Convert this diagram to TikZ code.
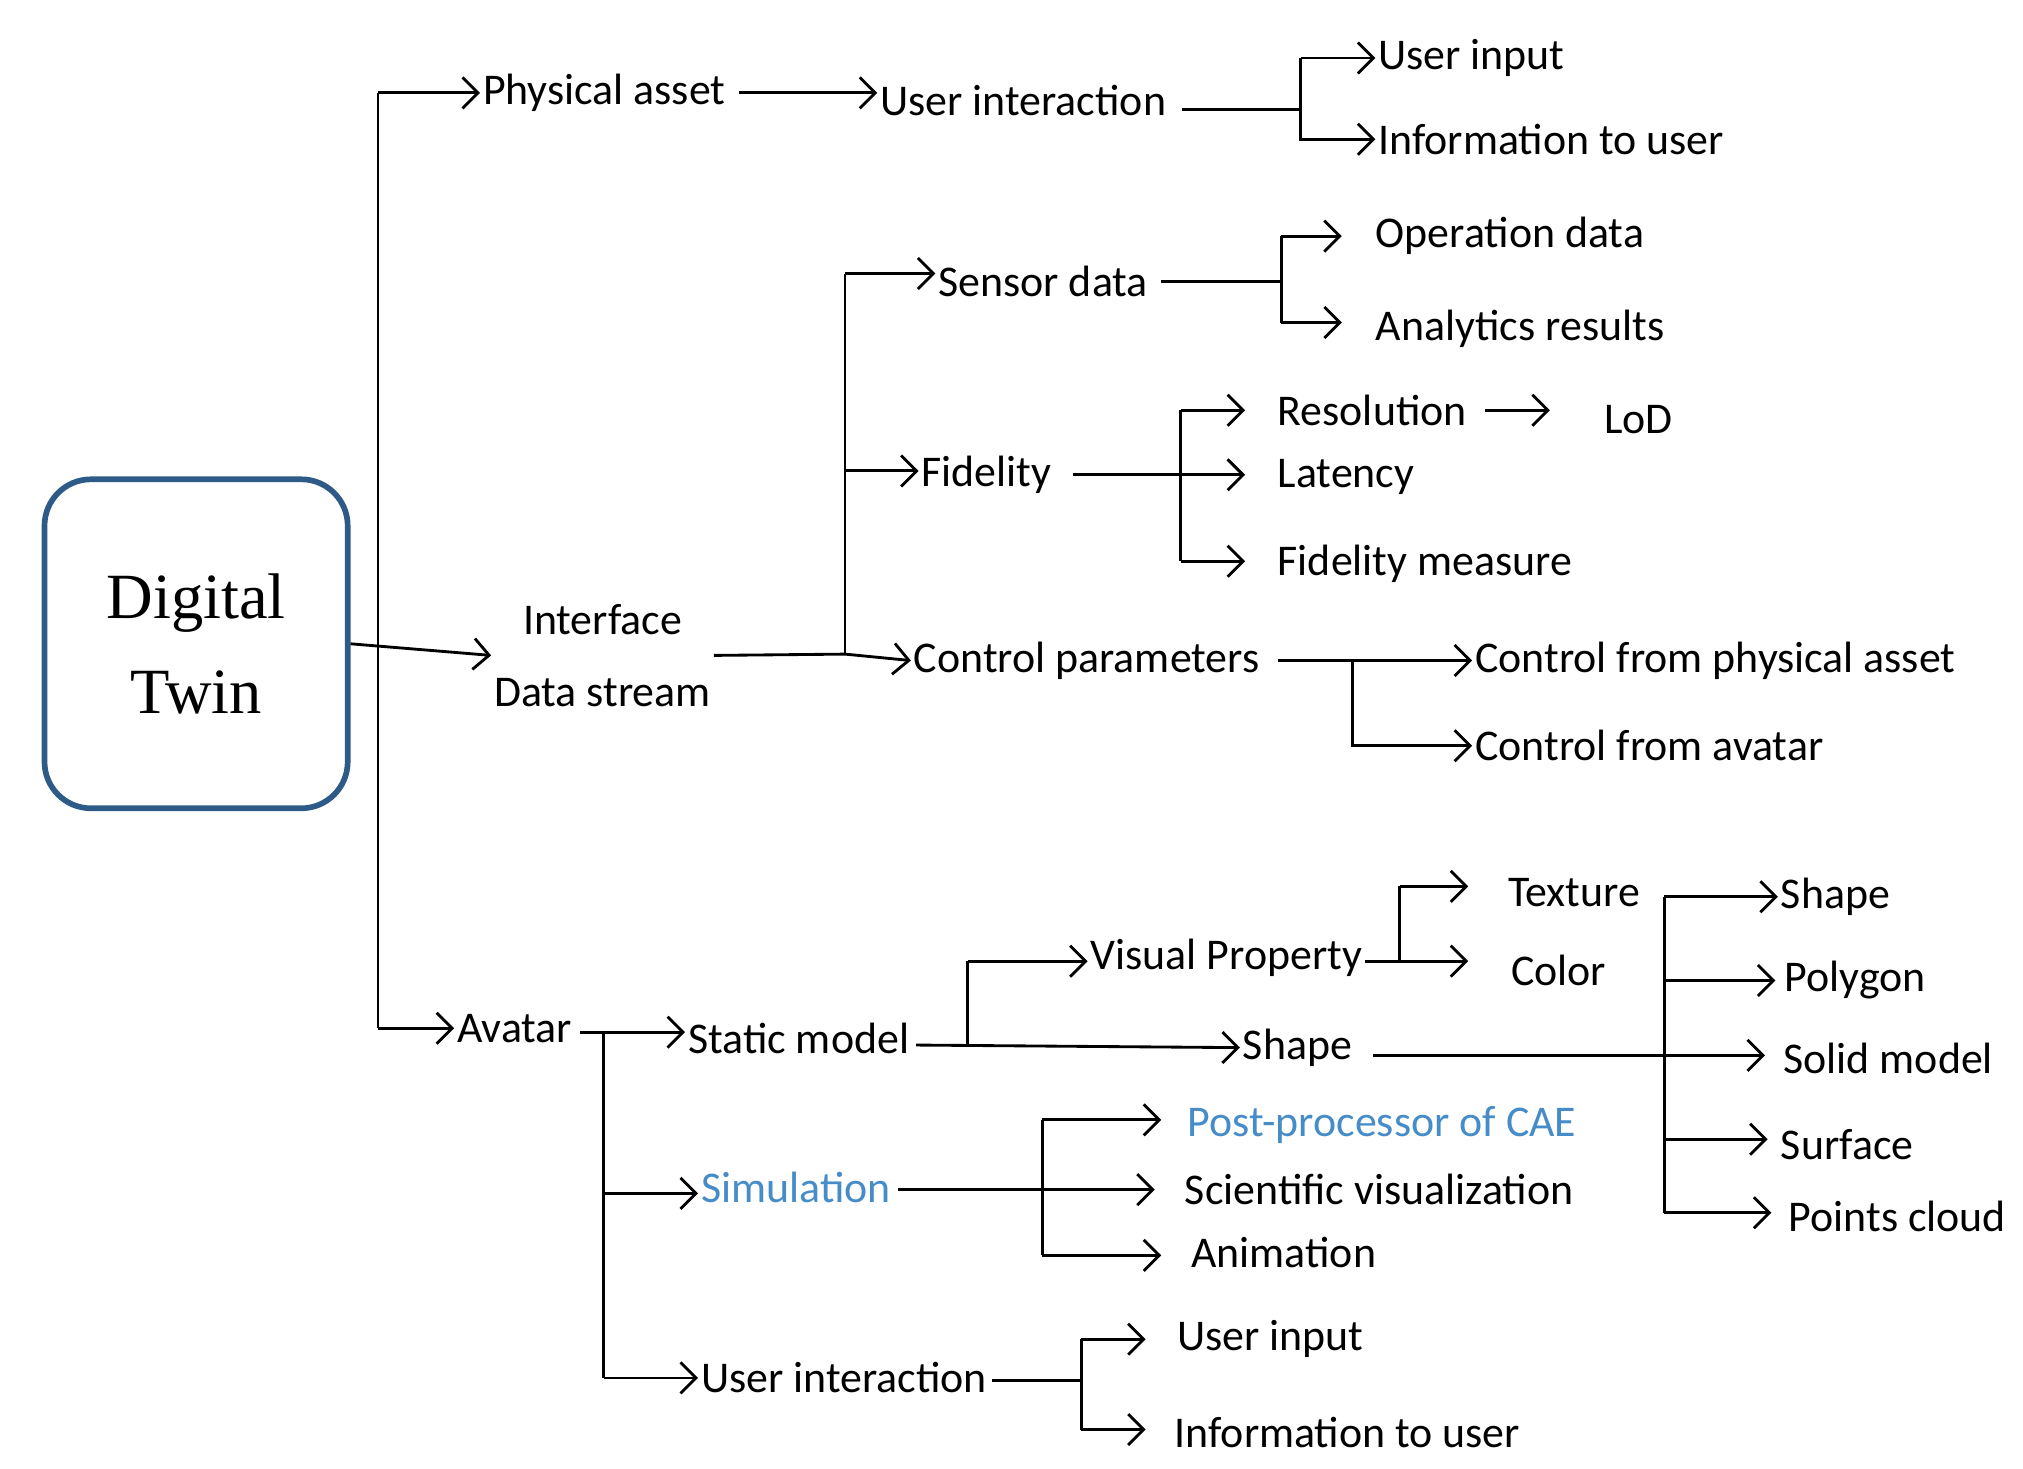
\documentclass[tikz,border=0pt]{standalone}
\usepackage{fontspec}
\setmainfont{Carlito}
\newfontfamily\serifdt{Liberation Serif}
\usetikzlibrary{arrows.meta}
\definecolor{boxblue}{RGB}{46,90,135}
\definecolor{simblue}{RGB}{70,140,200}
\begin{document}
\begin{tikzpicture}[x=0.5pt,y=-0.5pt,
  ln/.style={line width=1.1pt},
  ar/.style={ln,-{Straight Barb[length=6pt,width=12pt,line width=1.1pt]}},
  t/.style={anchor=west,inner sep=1pt,font=\fontsize{17}{20}\selectfont},
  c/.style={inner sep=1pt,font=\fontsize{17}{20}\selectfont}]
\useasboundingbox (0,0) rectangle (1568,1138);
% root
\node[draw=boxblue,line width=2.2pt,rounded corners=18pt,minimum width=117.5pt,minimum height=127.5pt,align=center,font=\serifdt\fontsize{25}{37}\selectfont] (dt) at (152,499) {Digital\\Twin};
\coordinate (tt) at (293,72); \coordinate (tm) at (293,499); \coordinate (tb) at (293,797);
\draw[ln] (tt) -- (tb);
% level 1
\node[t] (pa) at (372,72) {Physical asset};
\node[c,align=center,font=\fontsize{17}{28}\selectfont] (is) at (467,508) {Interface\\Data stream};
\node[t] (av) at (352,797) {Avatar};
\draw[ar] (tt) -- (pa.west);
\draw[ar] (dt.east) -- (is.west);
\draw[ar] (tb) -- (av.west);
% physical asset
\node[t] (ui1) at (680,78) {User interaction};
\draw[ar] (pa.east) ++(8,0) -- (ui1.west |- pa.east);
\node[t] (uin1) at (1066,45) {User input};
\node[t] (inf1) at (1066,108) {Information to user};
\coordinate (b1) at (1008,85);
\draw[ln] (ui1.east)++(10,7) -- (b1);
\draw[ar] (b1|-uin1) -- (b1) -- (b1|-inf1) -- (inf1.west);
\draw[ar] (b1|-uin1) -- (uin1.west);
% interface
\node[t] (sd) at (725,218) {Sensor data};
\node[t] (fi) at (712,368) {Fidelity};
\node[t] (cp) at (706,512) {Control parameters};
\coordinate (b2) at (655,507);
\draw[ln] (is.east) ++(0,0) -- (b2);
\draw[ar] (b2) -- (cp.west);
\draw[ln] (b2) -- (655,212);
\draw[ar] (655,212) -- (sd.west|-655,212);
\draw[ar] (655,365) -- (fi.west|-655,365);
% sensor
\node[t] (od) at (1064,183) {Operation data};
\node[t] (ar1) at (1064,255) {Analytics results};
\draw[ln] (sd.east)++(8,0) -- (993,218);
\draw[ln] (993,183) -- (993,250);
\draw[ar] (993,183) -- (1040,183);
\draw[ar] (993,250) -- (1040,250);
% fidelity
\node[t] (re) at (988,318) {Resolution};
\node[t] (la) at (988,370) {Latency};
\node[t] (fm) at (988,437) {Fidelity measure};
\node[c] (lod) at (1270,325) {LoD};
\draw[ar] (fi.east)++(14,0) -- (965,368);
\draw[ln] (915,318) -- (915,435);
\draw[ar] (915,318) -- (965,318);
\draw[ar] (915,435) -- (965,435);
\draw[ar] (re.east)++(12,0) -- ++(50,0);
% control
\node[t] (cpa) at (1141,512) {Control from physical asset};
\node[t] (cav) at (1141,578) {Control from avatar};
\draw[ar] (cp.east)++(12,0) -- (cpa.west);
\draw[ar] (1048,512) -- (1048,578) -- (cav.west);
% avatar
\node[t] (sm) at (531,805) {Static model};
\node[t,text=simblue] (si) at (541,920) {Simulation};
\node[t] (ui2) at (541,1068) {User interaction};
\coordinate (b3) at (468,800);
\draw[ln] (av.east)++(4,3) -- (b3);
\draw[ar] (b3) -- (sm.west|-b3);
\draw[ln] (b3) -- (468,1068);
\draw[ar] (468,925) -- (si.west|-468,925);
\draw[ar] (468,1068) -- (ui2.west);
% static model
\node[t] (vp) at (843,742) {Visual Property};
\node[t] (sh) at (961,812) {Shape};
\draw[ar] (sm.east)++(3,5) -- (sh.west);
\draw[ln] (750,810) -- (750,745);
\draw[ar] (750,745) -- (vp.west|-750,745);
\node[c] (tx) at (1220,692) {Texture};
\node[c] (co) at (1208,752) {Color};
\draw[ln] (vp.east)++(0,3) -- (1085,745);
\draw[ln] (1085,687) -- (1085,745);
\draw[ar] (1085,687) -- (1138,687);
\draw[ar] (1085,745) -- (1138,745);
% shape variants
\node[t] (s1) at (1378,695) {Shape};
\node[t] (s2) at (1381,760) {Polygon};
\node[t] (s3) at (1380,820) {Solid model};
\node[t] (s4) at (1378,887) {Surface};
\node[t] (s5) at (1384,943) {Points cloud};
\draw[ar] (sh.east)++(14,6) -- (1368,818);
\draw[ln] (1290,695) -- (1290,940);
\draw[ar] (1290,695) -- (1378,695);
\draw[ar] (1290,760) -- (1376,760);
\draw[ar] (1290,883) -- (1370,883);
\draw[ar] (1290,940) -- (1373,940);
% simulation
\node[t,text=simblue] (pp) at (918,872) {Post-processor of CAE};
\node[t] (sv) at (916,922) {Scientific visualization};
\node[t] (an) at (921,971) {Animation};
\draw[ar] (si.east)++(3,2) -- (895,922);
\draw[ln] (808,868) -- (808,973);
\draw[ar] (808,868) -- (900,868);
\draw[ar] (808,973) -- (900,973);
% user interaction 2
\node[t] (uin2) at (910,1038) {User input};
\node[t] (inf2) at (908,1110) {Information to user};
\draw[ln] (ui2.east)++(2,2) -- (838,1070);
\draw[ln] (838,1038) -- (838,1108);
\draw[ar] (838,1038) -- (888,1038);
\draw[ar] (838,1108) -- (888,1108);
\end{tikzpicture}
\end{document}
